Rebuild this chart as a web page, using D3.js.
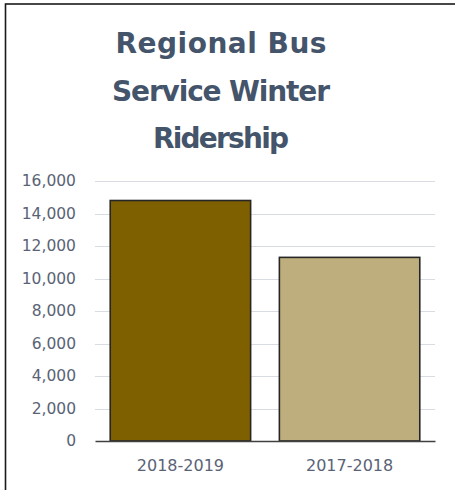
<!DOCTYPE html>
<html>
<head>
<meta charset="utf-8">
<script src="https://cdn.jsdelivr.net/npm/d3@7"></script>
<style>
  html, body { margin: 0; padding: 0; background: #fff; overflow: hidden; }
  svg { display: block; }
</style>
</head>
<body>
<svg id="chart" width="455" height="490"></svg>
<script>
const categories = ["2018-2019", "2017-2018"];
const ridership = [14800, 11300];
const barColors = ["#7F6000", "#BFAE7D"];
const yTicks = [0, 2000, 4000, 6000, 8000, 10000, 12000, 14000, 16000];
const titleLines = ["Regional Bus", "Service Winter", "Ridership"];

// layout (not data): fitted widths of the title lines
const titleWidths = [211, 218, 136];

const svg = d3.select("#chart");
const W = 455, H = 490;

// outer frame (only top and left edges fall inside the picture)
svg.append("rect")
  .attr("x", 5.5).attr("y", 4)
  .attr("width", W + 20).attr("height", H + 20)
  .attr("fill", "#fff").attr("stroke", "#1a1a1a").attr("stroke-width", 1.6);

const plot = { left: 95, right: 435, top: 181, bottom: 441 };
const font = "'DejaVu Sans', sans-serif";

const x = d3.scaleBand()
  .domain(categories)
  .range([plot.left, plot.right])
  .paddingInner(0.17)
  .paddingOuter(0.09);

const y = d3.scaleLinear()
  .domain([0, 16000])
  .range([plot.bottom, plot.top]);

// title
const titleG = svg.append("g")
  .attr("font-family", font)
  .attr("font-weight", "bold")
  .attr("font-size", 28)
  .attr("fill", "#44546A")
  .attr("text-anchor", "middle");
titleLines.forEach((t, i) => {
  titleG.append("text")
    .attr("x", 221)
    .attr("y", 53 + i * 47.5)
    .attr("textLength", titleWidths[i])
    .attr("lengthAdjust", "spacing")
    .text(t);
});

// gridlines
svg.append("g")
  .selectAll("line")
  .data(yTicks.filter(d => d > 0))
  .join("line")
  .attr("x1", plot.left).attr("x2", plot.right)
  .attr("y1", d => Math.round(y(d)) + 0.5)
  .attr("y2", d => Math.round(y(d)) + 0.5)
  .attr("stroke", "#D9DCE2")
  .attr("stroke-width", 1);

// y axis labels
const yAxis = d3.axisLeft(y)
  .tickValues(yTicks)
  .tickFormat(d3.format(","))
  .tickSize(0)
  .tickPadding(19);
const yg = svg.append("g")
  .attr("transform", `translate(${plot.left},0)`)
  .call(yAxis);
yg.select(".domain").remove();
yg.selectAll("text")
  .attr("font-family", font)
  .attr("font-size", 15.5)
  .attr("fill", "#5A6376");

// bars
svg.append("g")
  .selectAll("rect")
  .data(categories)
  .join("rect")
  .attr("x", d => x(d))
  .attr("y", (d, i) => y(ridership[i]))
  .attr("width", x.bandwidth())
  .attr("height", (d, i) => y(0) - y(ridership[i]))
  .attr("fill", (d, i) => barColors[i])
  .attr("stroke", "#262626")
  .attr("stroke-width", 1.6);

// x axis
const xAxis = d3.axisBottom(x).tickSize(0).tickPadding(19);
const xg = svg.append("g")
  .attr("transform", `translate(0,${plot.bottom})`)
  .call(xAxis);
xg.select(".domain")
  .attr("stroke", "#404040")
  .attr("stroke-width", 1.6);
xg.selectAll("text")
  .attr("font-family", font)
  .attr("font-size", 16)
  .attr("fill", "#5A6376");
</script>
</body>
</html>
